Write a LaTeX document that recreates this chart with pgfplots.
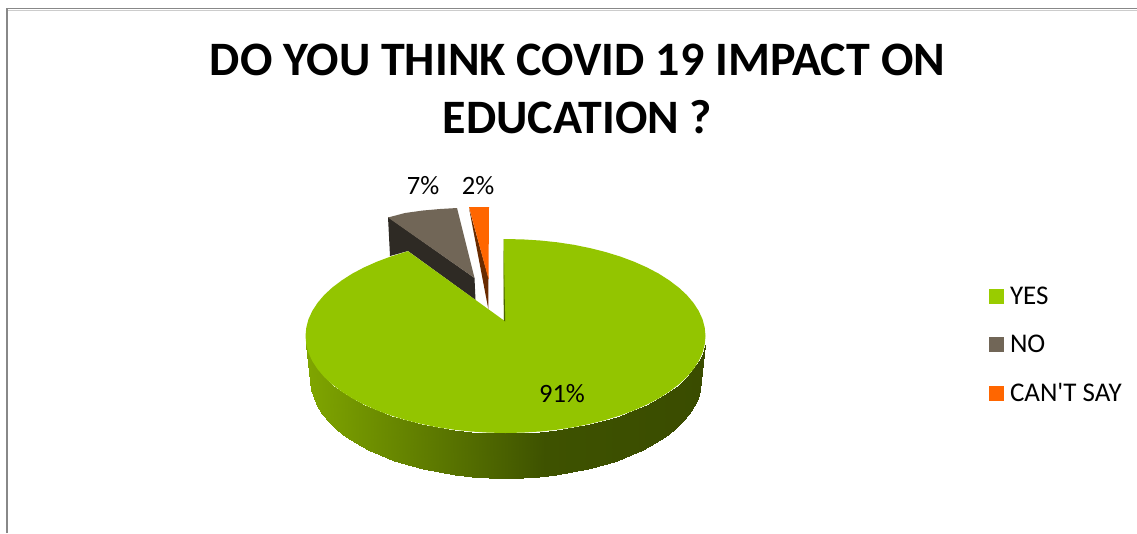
\documentclass[border=0pt]{standalone}
\usepackage{fontspec}
\setmainfont{Carlito}
\newfontfamily\straightfont{Carlito}
\usepackage{pgfplots}
\pgfplotsset{compat=1.18}

\definecolor{pieyes}{HTML}{93C500}
\definecolor{legyes}{HTML}{99CC00}
\definecolor{pieno}{HTML}{716657}
\definecolor{pienoside}{HTML}{2E2A24}
\definecolor{piecant}{HTML}{FF6600}
\definecolor{piecantside}{HTML}{692B00}
\definecolor{frameline}{HTML}{888888}

\begin{document}
\begin{tikzpicture}
\begin{axis}[
    scale only axis,
    width=1137pt,
    height=533pt,
    xmin=0, xmax=1137,
    ymin=0, ymax=533,
    y dir=reverse,
    hide axis,
    colormap={pieside}{rgb255(0cm)=(128,166,0) rgb255(6cm)=(62,82,0) rgb255(10cm)=(58,76,0)},
    point meta min=306,
    point meta max=705,
    legend image code/.code={\fill[#1] (0pt,-7.5pt) rectangle (15pt,7.5pt);},
    legend cell align=left,
    legend style={draw=none, fill=none, at={(989/1137,1-286.5/533)}, anchor=north west,
        font=\fontsize{27}{32}\selectfont, row sep=29.5pt,
        inner sep=0pt, outer sep=0pt,
        nodes={inner sep=0pt, outer sep=0pt},
        /tikz/every odd column/.append style={column sep=6pt}},
]
\addlegendimage{fill=legyes, draw=none}
\addlegendentry{YES}
\addlegendimage{fill=pieno, draw=none}
\addlegendentry{NO}
\addlegendimage{fill=piecant, draw=none}
\addlegendentry{\straightfont CAN'T SAY}

% keeps the whole 1137x533 canvas in the page, the axis itself is hidden
\addplot[forget plot, draw=none] coordinates {(0,0) (1137,533)};

% chart frame
\addplot[forget plot, draw=frameline, line width=1.8pt] coordinates {(7,533) (7,8.5) (1137,8.5)};
\addplot[forget plot, draw=black!20, line width=0.8pt] coordinates {(8,10) (1137,10)};

% NO slice
\addplot[forget plot, fill=pienoside, draw=none] coordinates {(388,217) (474.5,278) (475.5,300) (408,251) (390,256)} -- cycle;
\addplot[forget plot, fill=pieno, draw=none] coordinates {(388,217.5) (405,213) (423,210.5) (440,209) (457,208) (474.5,278)} -- cycle;

% CAN'T SAY slice
\addplot[forget plot, fill=piecantside, draw=none] coordinates {(469,208) (488.5,278) (488.3,309)} -- cycle;
\addplot[forget plot, fill=piecant, draw=none] coordinates {(469,207) (489,207) (488.5,279)} -- cycle;

% YES slice, side wall
\addplot[forget plot, surf, shader=interp, mesh/rows=2, point meta=x] coordinates {
(305.5,336) (306.3,344.5) (308.5,352.8) (312.3,361.1) (317.6,369.2) (324.2,377) (332.3,384.5) (341.7,391.6) (352.3,398.4)
(364.1,404.6) (376.9,410.3) (390.8,415.5) (405.5,420) (421,423.9) (437.1,427.2) (453.7,429.7) (470.8,431.5) (488.1,432.6)
(505.5,433)
(522.9,432.6) (540.2,431.5) (557.3,429.7) (573.9,427.2) (590,423.9) (605.5,420) (620.2,415.5) (634.1,410.3) (646.9,404.6)
(658.7,398.4) (669.3,391.6) (678.7,384.5) (686.8,377) (693.4,369.2) (698.7,361.1) (702.5,352.8) (704.7,344.5) (705.5,336)

(310.5,381) (311.2,389.5) (313.5,397.8) (317.1,406.1) (322.3,414.2) (328.8,422) (336.6,429.5) (345.8,436.6) (356.1,443.4)
(367.6,449.6) (380.2,455.3) (393.6,460.5) (408,465) (423.1,468.9) (438.8,472.2) (455,474.7) (471.6,476.5) (488.5,477.6)
(505.5,478)
(522.5,477.6) (539.4,476.5) (556,474.7) (572.2,472.2) (587.9,468.9) (603,465) (617.4,460.5) (630.8,455.3) (643.4,449.6)
(654.9,443.4) (665.2,436.6) (674.4,429.5) (682.2,422) (688.7,414.2) (693.9,406.1) (697.5,397.8) (699.8,389.5) (700.5,381)
};

% YES slice, top face
\addplot[forget plot, fill=pieyes, draw=none] coordinates {
(503.5,239) (522.9,239.4) (540.2,240.5) (557.3,242.3) (573.9,244.8) (590,248.1) (605.5,252) (620.2,256.5) (634.1,261.7)
(646.9,267.4) (658.7,273.6) (669.3,280.4) (678.7,287.5) (686.8,295) (693.4,302.8) (698.7,310.9) (702.5,319.2) (704.7,327.5)
(705.5,336)
(704.7,344.5) (702.5,352.8) (698.7,361.1) (693.4,369.2) (686.8,377) (678.7,384.5) (669.3,391.6) (658.7,398.4) (646.9,404.6)
(634.1,410.3) (620.2,415.5) (605.5,420) (590,423.9) (573.9,427.2) (557.3,429.7) (540.2,431.5) (522.9,432.6)
(505.5,433)
(488.1,432.6) (470.8,431.5) (453.7,429.7) (437.1,427.2) (421,423.9) (405.5,420) (390.8,415.5) (376.9,410.3) (364.1,404.6)
(352.3,398.4) (341.7,391.6) (332.3,384.5) (324.2,377) (317.6,369.2) (312.3,361.1) (308.5,352.8) (306.3,344.5)
(305.5,336)
(306.3,327.5) (308.5,319.2) (312.3,310.9) (317.6,302.8) (324.2,295) (332.3,287.5) (341.7,280.4) (352.3,273.6) (364.1,267.4)
(376.9,261.7) (390.8,256.5) (408,251.2) (504,320.5)
} -- cycle;
% cut edge of the YES slice
\addplot[forget plot, fill=black!50!pieyes, draw=none] coordinates {(503.5,239) (505.2,321.5) (503.8,320.5)} -- cycle;

% labels
\node[font=\fontsize{26.5}{32}\selectfont] at (axis cs:423,186) {7\%};
\node[font=\fontsize{26.5}{32}\selectfont] at (axis cs:478,186) {2\%};
\node[font=\fontsize{26.5}{32}\selectfont] at (axis cs:562,394) {91\%};
\node[align=center, font=\fontsize{48}{58}\selectfont\bfseries] at (axis cs:577.5,89)
    {DO YOU THINK COVID 19 IMPACT ON\\EDUCATION ?};
\end{axis}
\end{tikzpicture}
\end{document}
